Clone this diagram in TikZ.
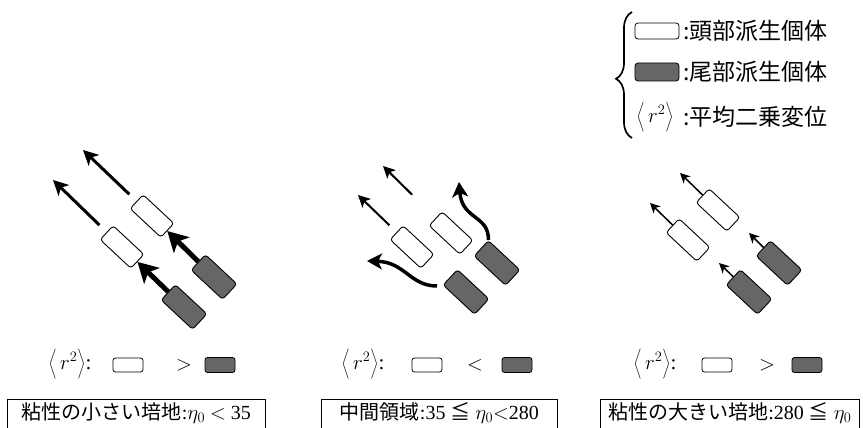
\documentclass[tikz,border=0pt]{standalone}
\usepackage{fontspec}
\setmainfont{Liberation Serif}
\newfontfamily\jp{Noto Sans CJK JP}
\usetikzlibrary{arrows.meta,decorations.pathreplacing}
\newcommand{\msdr}{$\left\langle\vrule height 15pt depth 9pt width 0pt\, r^{2}\right\rangle$}
\begin{document}
\begin{tikzpicture}[x=1pt,y=-1pt,
  wbox/.style={draw, line width=0.9pt, rounded corners=3pt, minimum width=42pt, minimum height=19pt, fill=white, inner sep=0pt, rotate=-43},
  dbox/.style={draw, line width=0.9pt, rounded corners=3pt, minimum width=43pt, minimum height=21pt, fill=black!60, inner sep=0pt, rotate=-43},
  swbox/.style={draw, line width=0.8pt, rounded corners=2.5pt, minimum width=30pt, minimum height=14pt, fill=white, inner sep=0pt},
  sdbox/.style={draw, line width=0.8pt, rounded corners=2.5pt, minimum width=30pt, minimum height=15pt, fill=black!60, inner sep=0pt},
  kwbox/.style={draw, line width=0.8pt, rounded corners=3pt, minimum width=44pt, minimum height=16pt, fill=white, inner sep=0pt},
  kdbox/.style={draw, line width=0.8pt, rounded corners=3pt, minimum width=44pt, minimum height=18pt, fill=black!60, inner sep=0pt},
  longarr/.style={line width=3pt, -{Stealth[length=15pt,width=15pt,inset=4pt]}},
  fatarr/.style={line width=5pt, -{Stealth[length=20pt,width=22pt,inset=5pt]}},
  midarr/.style={line width=2pt, -{Stealth[length=12pt,width=12pt,inset=3pt]}},
  curvarr/.style={line width=3.5pt, -{Stealth[length=15pt,width=16pt,inset=4pt]}},
  thinarr/.style={line width=1.5pt, -{Stealth[length=10pt,width=10pt,inset=3pt]}},
  rowtxt/.style={font=\fontsize{21}{24}\selectfont, inner sep=0pt},
  legtxt/.style={font=\jp\fontsize{23}{26}\selectfont, inner sep=0pt, anchor=west},
  labbox/.style={draw, line width=0.8pt, anchor=north west, inner xsep=8pt, inner ysep=4pt, text height=16pt, text depth=22pt, font=\fontsize{20}{24}\selectfont}
]
\useasboundingbox (0,0) rectangle (863,428);

% ---------------- legend ----------------
\coordinate (Kbt) at (632,138);
\coordinate (Kbb) at (632,12);
\draw[line width=1.7pt, decorate, decoration={brace, amplitude=16pt, aspect=0.47}] (Kbt) -- (Kbb);
\node[kwbox] (Kw) at (657,31) {};
\node[legtxt] (Kwt) at (683,31) {:頭部派生個体};
\node[kdbox] (Kd) at (657,72) {};
\node[legtxt] (Kdt) at (683,72) {:尾部派生個体};
\node[rowtxt] (Kr) at (655,117) {\msdr};
\node[legtxt] (Krt) at (683,117) {:平均二乗変位};

% ---------------- left panel ----------------
\node[wbox] (Lw1) at (152,216) {};
\node[wbox] (Lw2) at (122,247) {};
\node[dbox] (Ld1) at (214,277) {};
\node[dbox] (Ld2) at (184,307) {};
\coordinate (La) at (83,150);
\coordinate (Lb) at (53,180);
\draw[longarr, shorten <=10pt] (Lw1) -- (La);
\draw[longarr, shorten <=10pt] (Lw2) -- (Lb);
\draw[fatarr] (Ld1) -- (Lw1);
\draw[fatarr] (Ld2) -- (Lw2);

% ---------------- middle panel ----------------
\node[wbox] (Mw1) at (412,247) {};
\node[wbox] (Mw2) at (451,233) {};
\node[dbox] (Md1) at (497,263) {};
\node[dbox] (Md2) at (466,292) {};
\coordinate (Ma) at (383,166);
\coordinate (Mb) at (358,195);
\coordinate (Mc1) at (459,182);
\coordinate (Mc2s) at (437,286);
\coordinate (Mc2) at (367,261);
\draw[midarr, shorten <=33pt] (Mw2) -- (Ma);
\draw[midarr, shorten <=10pt] (Mw1) -- (Mb);
\draw[curvarr] (Md1.north west) .. controls (489,215) and (462,220) .. (Mc1);
\draw[curvarr] (Mc2s) .. controls (410,286) and (405,262) .. (Mc2);

% ---------------- right panel ----------------
\node[wbox] (Rw1) at (718,210) {};
\node[wbox] (Rw2) at (688,240) {};
\node[dbox] (Rd1) at (779,263) {};
\node[dbox] (Rd2) at (749,292) {};
\coordinate (Ra) at (680,173);
\coordinate (Rb) at (650,203);
\coordinate (Rc) at (749,233);
\coordinate (Rd) at (719,263);
\draw[thinarr] (Rw1) -- (Ra);
\draw[thinarr] (Rw2) -- (Rb);
\draw[thinarr] (Rd1) -- (Rc);
\draw[thinarr] (Rd2) -- (Rd);

% ---------------- comparison rows ----------------
\node[rowtxt] (Lr) at (70,364) {\msdr:};
\node[swbox] (Lsw) at (128,365) {};
\node[rowtxt] (Lrel) at (184,365) {$>$};
\node[sdbox] (Lsd) at (220,365) {};

\node[rowtxt] (Mr) at (363,364) {\msdr:};
\node[swbox] (Msw) at (427,365) {};
\node[rowtxt] (Mrel) at (475,365) {$<$};
\node[sdbox] (Msd) at (517,365) {};

\node[rowtxt] (Rr) at (655,364) {\msdr:};
\node[swbox] (Rsw) at (717,365) {};
\node[rowtxt] (Rrel) at (767,365) {$>$};
\node[sdbox] (Rsd) at (807,365) {};

% ---------------- condition boxes ----------------
\node[labbox, minimum width=258pt] (Lbox) at (7,399) {{\jp 粘性の小さい培地}:$\eta_{0}$ $<$ 35};
\node[labbox, minimum width=236pt] (Mbox) at (321,399) {{\jp 中間領域}:35 {\jp ≦} $\eta_{0}$$<$280};
\node[labbox] (Rbox) at (600,399) {{\jp 粘性の大きい培地}:280 {\jp ≦} $\eta_{0}$};
\end{tikzpicture}
\end{document}
